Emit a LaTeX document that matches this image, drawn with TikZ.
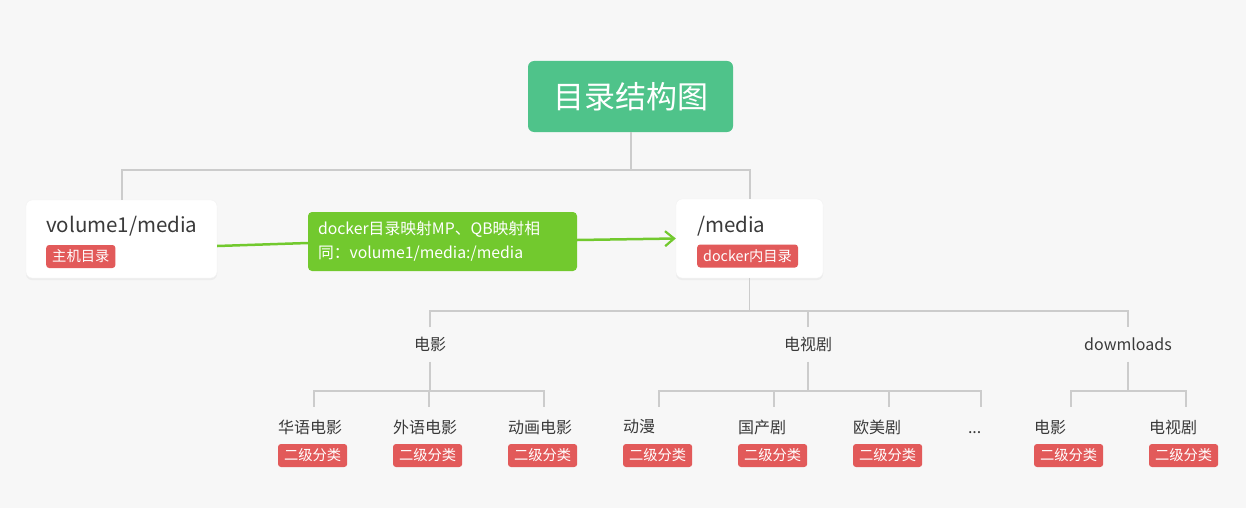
\documentclass[tikz,border=0pt]{standalone}
\usepackage{fontspec}
\setmainfont{Noto Sans CJK SC}
\usetikzlibrary{arrows.meta,calc}
\definecolor{bg}{HTML}{F7F7F7}
\definecolor{rootgreen}{HTML}{4FC38A}
\definecolor{linkgreen}{HTML}{72C92E}
\definecolor{tagred}{HTML}{E25A5A}
\definecolor{txt}{HTML}{3A3A3A}
\definecolor{conngray}{HTML}{CCCCCC}
\begin{document}
\begin{tikzpicture}[x=1pt,y=-1pt,
  rootbox/.style={fill=rootgreen,rounded corners=6pt,minimum width=205pt,minimum height=71pt,inner sep=0pt,text=white,font=\fontsize{31}{36}\selectfont},
  whitebox/.style={fill=white,draw=black!5,rounded corners=6pt,inner sep=0pt},
  linkbox/.style={fill=linkgreen,rounded corners=4pt,minimum width=269pt,minimum height=59pt,inner xsep=10pt,inner ysep=0pt,text width=249pt,align=left,text=white,font=\fontsize{15.8}{24}\selectfont},
  bigtext/.style={anchor=west,inner sep=0pt,text=txt,font=\fontsize{20.5}{22}\selectfont},
  tag/.style={fill=tagred,rounded corners=3pt,inner xsep=6pt,inner ysep=0pt,minimum height=23pt,text=white,anchor=west,font=\fontsize{14.3}{16}\selectfont},
  lvone/.style={inner sep=0pt,minimum height=34pt,text=txt,font=\fontsize{16}{18}\selectfont},
  child/.style={inner sep=0pt,minimum height=40pt,text width=72pt,align=left,text=txt,font=\fontsize{16}{18}\selectfont},
  conn/.style={draw=conngray,line width=2pt},
  conntwo/.style={draw=conngray,line width=1.4pt},
  glink/.style={draw=linkgreen,line width=2.5pt},
]
\useasboundingbox[fill=bg] (0,0) rectangle (1246,508);

% root
\node[rootbox] (root) at (630.5,96.5) {目录结构图};

% volume box
\fill[black!7,rounded corners=6pt] (26,201.5) rectangle (217,280);
\node[whitebox,minimum width=191pt,minimum height=78pt] (vol) at (121.5,239) {};
\node[bigtext] (voltxt) at (46,226) {volume1/media};
\node[tag] (voltag) at (46,256.5) {主机目录};

% media box
\fill[black!7,rounded corners=6pt] (676,200.5) rectangle (823,280);
\node[whitebox,minimum width=147pt,minimum height=79pt] (media) at (749.5,238.5) {};
\node[bigtext] (mediatxt) at (697,226) {/media};
\node[tag] (mediatag) at (697,256) {docker内目录};

% link box
\node[linkbox] (gbox) at (442.5,241.5) {docker目录映射MP、QB映射相\\同：volume1/media:/media};

% top connectors
\draw[conn] (root.south) -- (root.south|-0,170) -| (vol.north);
\draw[conn] (root.south|-0,170) -| (media.north);

% green link
\draw[glink] ($(vol.east)+(0,7)$) -- ($(gbox.west)+(0,1.5)$);
\draw[glink,-{Straight Barb[length=9pt,width=15pt,line width=2.2pt]}] ($(gbox.east)+(0,-1.5)$) -- (media.west);

% level 1
\node[lvone] (l1) at (430,344.5) {电影};
\node[lvone] (l2) at (808,344.5) {电视剧};
\node[lvone] (l3) at (1128,344.5) {dowmloads};

\draw[conntwo] (media.south) -- (media.south|-0,311);
\draw[conntwo] (l1.north) -- (l1.north|-0,311) -- (l3.north|-0,311) -- (l3.north);
\draw[conntwo] (l2.north) -- (l2.north|-0,311);

% children of 电影
\node[child] (a1) at (314,427) {华语电影};
\node[child] (a2) at (429,427) {外语电影};
\node[child] (a3) at (544,427) {动画电影};
\node[tag] (ta1) at (a1.west|-0,455.5) {二级分类};
\node[tag] (ta2) at (a2.west|-0,455.5) {二级分类};
\node[tag] (ta3) at (a3.west|-0,455.5) {二级分类};
\draw[conntwo] (l1.south) -- (l1.south|-0,391);
\draw[conntwo] (a1.north) -- (a1.north|-0,391) -- (a3.north|-0,391) -- (a3.north);
\draw[conntwo] (a2.north) -- (a2.north|-0,391);

% children of 电视剧
\node[child] (b1) at (659,427) {动漫};
\node[child] (b2) at (774,427) {国产剧};
\node[child] (b3) at (889,427) {欧美剧};
\node[child,text width=26pt] (b4) at (981,427) {\raisebox{-6pt}[0pt][0pt]{...}};
\node[tag] (tb1) at (b1.west|-0,455.5) {二级分类};
\node[tag] (tb2) at (b2.west|-0,455.5) {二级分类};
\node[tag] (tb3) at (b3.west|-0,455.5) {二级分类};
\draw[conntwo] (l2.south) -- (l2.south|-0,391);
\draw[conntwo] (b1.north) -- (b1.north|-0,391) -- (b4.north|-0,391) -- (b4.north);
\draw[conntwo] (b2.north) -- (b2.north|-0,391);
\draw[conntwo] (b3.north) -- (b3.north|-0,391);

% children of dowmloads
\node[child,text width=74pt] (c1) at (1071,427) {电影};
\node[child,text width=74pt] (c2) at (1186,427) {电视剧};
\node[tag] (tc1) at (c1.west|-0,455.5) {二级分类};
\node[tag] (tc2) at (c2.west|-0,455.5) {二级分类};
\draw[conntwo] (l3.south) -- (l3.south|-0,391);
\draw[conntwo] (c1.north) -- (c1.north|-0,391) -- (c2.north|-0,391) -- (c2.north);
\end{tikzpicture}
\end{document}
